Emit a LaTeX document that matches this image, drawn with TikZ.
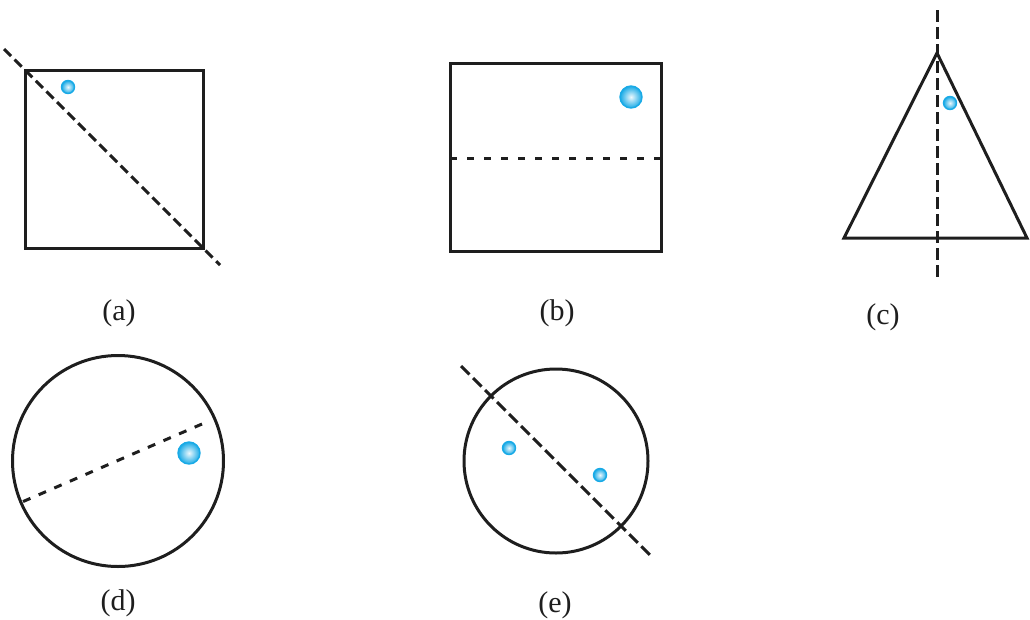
\documentclass[tikz,border=0pt]{standalone}
\usepackage{fontspec}
\setmainfont{Liberation Serif}
\definecolor{ballblue}{RGB}{25,170,230}
\definecolor{ink}{RGB}{30,30,30}
\tikzset{
  outline/.style={draw=ink, line width=3pt, line join=miter},
  longdash/.style={draw=ink, line width=3pt, dash pattern=on 10pt off 5pt},
  shortdash/.style={draw=ink, line width=3pt, dash pattern=on 7pt off 10pt},
  lbl/.style={font=\fontsize{30}{33}\selectfont, inner sep=0pt, text=ink},
}
\newcommand{\ballat}[2]{%
  \shade[inner color=ballblue!8, outer color=ballblue] #1 circle (#2);
  \draw[ballblue, line width=1.4pt] #1 circle (#2);}
\begin{document}
\begin{tikzpicture}[x=1pt,y=-1pt]
\path[use as bounding box] (0,0) rectangle (1030,619);
% (a)
\draw[outline] (25,70) rectangle (203,248);
\draw[longdash] (4,49) -- (220,265);
\ballat{(68,87)}{6.5}
\node[lbl] (la) at (119,313) {(a)};
% (b)
\draw[outline] (450,63) rectangle (661,251);
\draw[shortdash] (450,158) -- (661,158);
\ballat{(631,97)}{11}
\node[lbl] (lb) at (557,313) {(b)};
% (c)
\draw[outline] (937,53) -- (1027,238) -- (844,238) -- cycle;
\draw[longdash, dash pattern=on 12pt off 5pt] (937,10) -- (937,278);
\ballat{(950,103)}{6.5}
\node[lbl] (lc) at (883,317) {(c)};
% (d)
\draw[outline] (118,461) circle (105.5);
\draw[shortdash, dash pattern=on 8pt off 9pt] (202,424) -- (22,502);
\ballat{(189,453)}{11}
\node[lbl] (ld) at (118,603) {(d)};
% (e)
\draw[outline] (556,461) circle (92);
\draw[longdash, dash pattern=on 12pt off 5pt] (461,366) -- (650,555);
\ballat{(509,448)}{6.5}
\ballat{(600,475)}{6.5}
\node[lbl] (le) at (555,605) {(e)};
\end{tikzpicture}
\end{document}
